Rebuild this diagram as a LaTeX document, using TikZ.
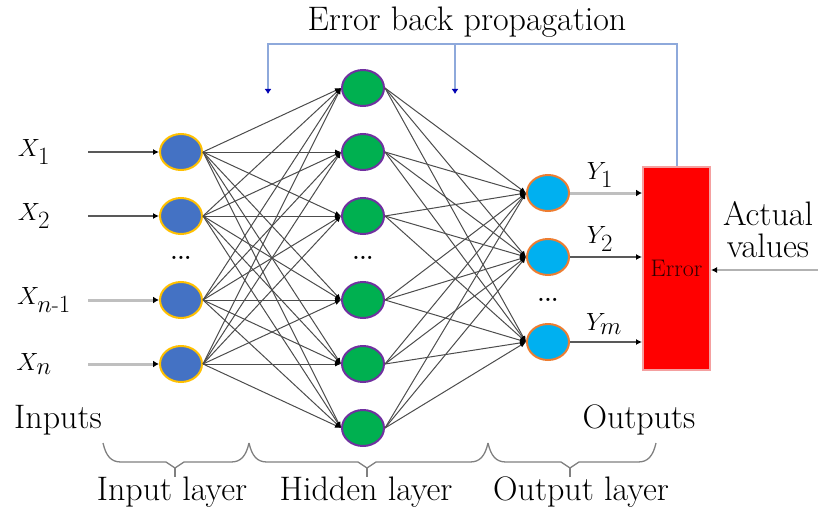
\documentclass[tikz,border=0pt]{standalone}
\usepackage{amsmath}
\usepackage{fontspec}
\usetikzlibrary{arrows.meta,shapes.geometric}
\definecolor{inblue}{HTML}{4472C4}
\definecolor{ingold}{HTML}{FFC000}
\definecolor{hidgreen}{HTML}{00B050}
\definecolor{hidpurple}{HTML}{7030A0}
\definecolor{outcyan}{HTML}{00B0F0}
\definecolor{outorange}{HTML}{ED7D31}
\definecolor{bpblue}{HTML}{8EA9DB}
\definecolor{errborder}{HTML}{F4A0A0}
% curly brace under a layer: left end, right end, tip position
\newcommand\layerbrace[3]{%
  \draw[bracestyle] (#1,443) .. controls (#1+3,456) and (#1+8,462) .. (#1+18,462)
    -- (#3-9,462) -- (#3,468) -- (#3+9,462) -- (#2-18,462)
    .. controls (#2-8,462) and (#2-3,456) .. (#2,443);
  \draw[bracestyle] (#3,468) -- (#3,477);}
\begin{document}
\begin{tikzpicture}[x=1pt,y=-1pt,
  neuron/.style={ellipse,minimum width=42pt,minimum height=36pt,inner sep=0pt,line width=2pt},
  innode/.style={neuron,fill=inblue,draw=ingold},
  hidnode/.style={neuron,fill=hidgreen,draw=hidpurple},
  outnode/.style={neuron,fill=outcyan,draw=outorange},
  link/.style={draw=black!70,line width=1pt,-{Latex[length=6pt,width=5pt,color=black]}},
  darkarrow/.style={draw=black!65,line width=1.6pt,-{Latex[length=6pt,width=6pt,color=black]}},
  lightarrow/.style={draw=black!25,line width=3pt,-{Latex[length=6pt,width=7pt,color=black]}},
  bp/.style={draw=bpblue,line width=2pt},
  bparrow/.style={bp,-{Latex[length=5pt,width=7pt,color=blue!70!black]}},
  lbl/.style={font=\fontsize{34}{36}\selectfont,inner sep=0pt,text=black},
  varlbl/.style={font=\fontsize{33}{35}\selectfont,inner sep=0pt,text=black},
  dots/.style={font=\fontsize{22}{24}\selectfont\bfseries,inner sep=0pt},
  errbox/.style={rectangle,fill=red,draw=errborder,line width=2pt,minimum width=67pt,minimum height=203pt,inner sep=0pt,font=\fontsize{24}{26}\selectfont,text=black!80!red},
  bracestyle/.style={draw=black!50,line width=1.3pt}
]
\useasboundingbox (0,0) rectangle (818,508);

% neurons
\foreach \n/\y in {1/152,2/216,3/300,4/364}
  \node[innode] (i\n) at (181,\y) {};
\foreach \n/\y in {1/88,2/152,3/216,4/300,5/364,6/428}
  \node[hidnode] (h\n) at (363,\y) {};
\foreach \n/\y in {1/193,2/257,3/342}
  \node[outnode] (o\n) at (548,\y) {};

% fully connected weights
\foreach \a in {1,...,4}
  \foreach \b in {1,...,6}
    \draw[link] (i\a.east) -- (h\b.west);
\foreach \a in {1,...,6}
  \foreach \b in {1,...,3}
    \draw[link] (h\a.east) -- (o\b.west);

% ellipsis between neurons
\node[dots] (di) at (181,258) {...};
\node[dots] (dh) at (363,258) {...};
\node[dots] (do) at (548,300) {...};

% inputs
\foreach \n/\y in {1/152,2/216,3/300,4/364}
  \coordinate (x\n) at (88,\y);
\draw[darkarrow] (x1) -- (i1.west);
\draw[darkarrow] (x2) -- (i2.west);
\draw[lightarrow] (x3) -- (i3.west);
\draw[lightarrow] (x4) -- (i4.west);
\node[varlbl] (lx1) at (34,152) {$X_1$};
\node[varlbl] (lx2) at (34,216) {$X_2$};
\node[varlbl] (lx3) at (44,300) {$X_{n\text{-}1}$};
\node[varlbl] (lx4) at (34,364) {$X_n$};

% error unit
\node[errbox] (err) at (676.5,268.5) {Error};
\draw[lightarrow] (o1.east) -- (err.west |- o1);
\draw[darkarrow] (o2.east) -- (err.west |- o2);
\draw[darkarrow] (o3.east) -- (err.west |- o3);
\node[varlbl] (ly1) at (600,175) {$Y_1$};
\node[varlbl] (ly2) at (600,239) {$Y_2$};
\node[varlbl] (ly3) at (604,324) {$Y_m$};

% actual values
\coordinate (av) at (818,270);
\draw[draw=black!30,line width=2.2pt,-{Latex[length=6pt,width=6pt,color=black]}] (av) -- (err.east |- av);
\node[lbl,align=center] (actual) at (768,230) {Actual\\[-4pt]values};

% error back propagation
\coordinate (tl) at (268,44);
\coordinate (tm) at (455,44);
\coordinate (tr) at (err.north |- tl);
\coordinate (bp1) at (268,94);
\coordinate (bp2) at (455,94);
\draw[bparrow] (err.north) -- (tr) -- (tl) -- (bp1);
\draw[bparrow] (tm) -- (bp2);
\node[lbl] (bptext) at (467,22) {Error back propagation};

% side captions
\node[lbl] (inputs) at (58,420) {Inputs};
\node[lbl] (outputs) at (639,420) {Outputs};

% layer braces
\layerbrace{103}{249}{175}
\layerbrace{249}{488}{367}
\layerbrace{488}{656}{570}
\node[lbl] (linput) at (172,492) {Input layer};
\node[lbl] (lhidden) at (366,492) {Hidden layer};
\node[lbl] (loutput) at (581,492) {Output layer};
\end{tikzpicture}
\end{document}
